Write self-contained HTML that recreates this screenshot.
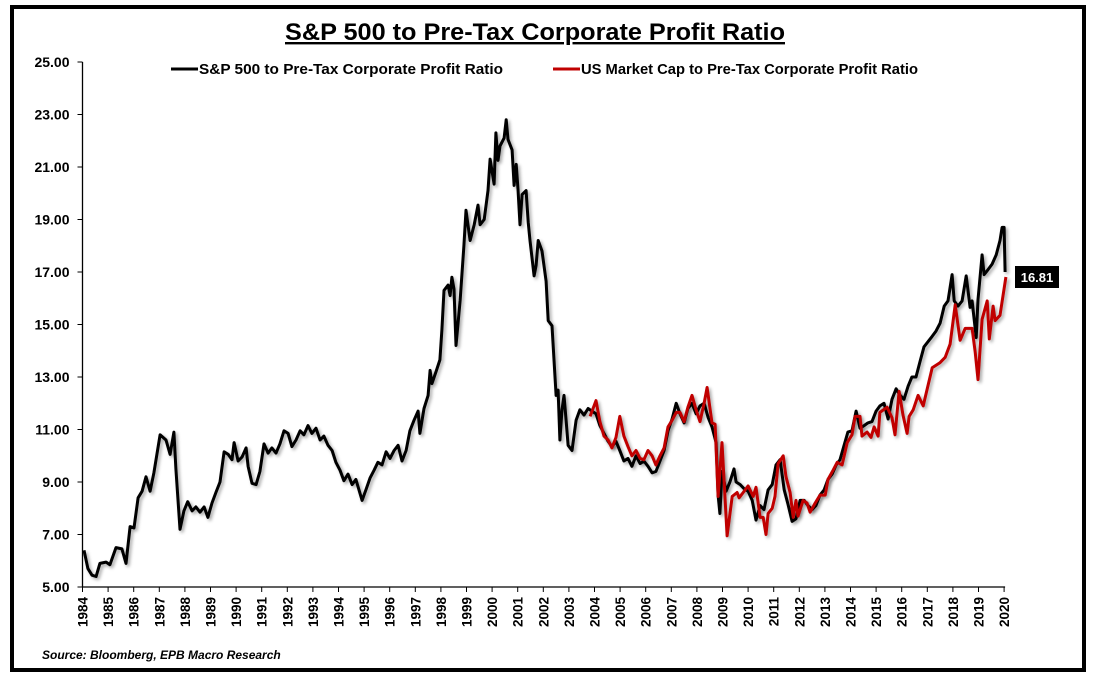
<!DOCTYPE html>
<html><head><meta charset="utf-8">
<style>
html,body{margin:0;padding:0;background:#fff;}
body{width:1097px;height:680px;position:relative;overflow:hidden;font-family:"Liberation Sans",Arial,sans-serif;}
svg text{font-family:"Liberation Sans",Arial,sans-serif;font-weight:bold;}
</style></head><body>
<svg id="chart" width="1097" height="680" viewBox="0 0 1097 680" xmlns="http://www.w3.org/2000/svg">
<defs><filter id="sh" x="-5%" y="-5%" width="110%" height="110%"><feDropShadow dx="2" dy="2" stdDeviation="1.5" flood-color="#000" flood-opacity="0.35"/></filter></defs>
<rect x="12" y="7" width="1072" height="663" fill="#fff" stroke="#000" stroke-width="4"/>
<text x="535" y="40" text-anchor="middle" font-size="24" textLength="500" lengthAdjust="spacingAndGlyphs" text-decoration="underline">S&amp;P 500 to Pre-Tax Corporate Profit Ratio</text>
<g>
<g><line x1="171" y1="69" x2="198" y2="69" stroke="#000" stroke-width="3"/><text x="199" y="74" font-size="14.5" textLength="304" lengthAdjust="spacingAndGlyphs">S&amp;P 500 to Pre-Tax Corporate Profit Ratio</text></g>
<g><line x1="553" y1="69" x2="580" y2="69" stroke="#c00000" stroke-width="3"/><text x="581" y="74" font-size="14.5" textLength="337" lengthAdjust="spacingAndGlyphs">US Market Cap to Pre-Tax Corporate Profit Ratio</text></g>
</g>
<g id="axes"></g>
<g id="series"></g>
<g><rect x="1015" y="266" width="44" height="22" fill="#000"/><text id="lastlbl" x="1037" y="282" text-anchor="middle" font-size="13" fill="#fff">16.81</text></g>
<text x="42" y="659" font-size="12" font-style="italic">Source: Bloomberg, EPB Macro Research</text>
</svg>
<script>
const yTicks=[5,7,9,11,13,15,17,19,21,23,25];
const xYears=[1984,1985,1986,1987,1988,1989,1990,1991,1992,1993,1994,1995,1996,1997,1998,1999,2000,2001,2002,2003,2004,2005,2006,2007,2008,2009,2010,2011,2012,2013,2014,2015,2016,2017,2018,2019,2020];
const spDates=[1984.06,1984.21,1984.37,1984.53,1984.68,1984.92,1985.07,1985.31,1985.54,1985.70,1985.86,1986.01,1986.17,1986.33,1986.48,1986.64,1986.79,1987.03,1987.26,1987.42,1987.57,1987.65,1987.81,1987.96,1988.11,1988.28,1988.43,1988.59,1988.75,1988.90,1989.06,1989.21,1989.37,1989.53,1989.69,1989.84,1989.92,1990.08,1990.23,1990.39,1990.47,1990.62,1990.78,1990.93,1991.09,1991.25,1991.40,1991.56,1991.71,1991.87,1992.03,1992.18,1992.34,1992.50,1992.65,1992.81,1992.96,1993.12,1993.28,1993.43,1993.59,1993.75,1993.90,1994.06,1994.21,1994.37,1994.53,1994.68,1994.92,1995.07,1995.23,1995.39,1995.54,1995.70,1995.86,1996.01,1996.17,1996.33,1996.48,1996.64,1996.79,1996.95,1997.11,1997.18,1997.34,1997.50,1997.58,1997.65,1997.81,1997.96,1998.04,1998.12,1998.28,1998.36,1998.43,1998.51,1998.59,1998.75,1998.90,1998.98,1999.14,1999.30,1999.45,1999.53,1999.69,1999.84,1999.92,2000.08,2000.15,2000.23,2000.31,2000.47,2000.55,2000.62,2000.78,2000.86,2000.94,2001.01,2001.09,2001.17,2001.33,2001.41,2001.48,2001.64,2001.72,2001.80,2001.95,2002.11,2002.19,2002.34,2002.50,2002.58,2002.65,2002.73,2002.81,2002.89,2002.97,2003.12,2003.28,2003.43,2003.59,2003.75,2003.90,2004.06,2004.21,2004.37,2004.53,2004.68,2004.84,2004.99,2005.15,2005.31,2005.46,2005.62,2005.78,2005.93,2006.09,2006.25,2006.40,2006.56,2006.72,2006.87,2007.03,2007.19,2007.34,2007.50,2007.65,2007.81,2007.97,2008.12,2008.28,2008.44,2008.59,2008.75,2008.83,2008.90,2008.98,2009.14,2009.29,2009.45,2009.53,2009.69,2009.84,2010.00,2010.16,2010.31,2010.47,2010.62,2010.78,2010.94,2011.09,2011.25,2011.41,2011.56,2011.72,2011.87,2012.03,2012.19,2012.34,2012.50,2012.65,2012.81,2012.97,2013.12,2013.28,2013.44,2013.59,2013.75,2013.90,2014.06,2014.22,2014.37,2014.53,2014.68,2014.84,2015.00,2015.15,2015.31,2015.47,2015.62,2015.78,2015.94,2016.09,2016.25,2016.40,2016.56,2016.72,2016.87,2017.03,2017.19,2017.34,2017.50,2017.66,2017.81,2017.97,2018.05,2018.20,2018.36,2018.52,2018.67,2018.75,2018.91,2018.98,2019.14,2019.22,2019.38,2019.53,2019.69,2019.84,2019.92,2020.00,2020.04];
const spValues=[6.4,5.7,5.45,5.4,5.9,5.95,5.85,6.5,6.45,5.9,7.3,7.25,8.4,8.65,9.2,8.65,9.35,10.8,10.6,10.05,10.9,9.5,7.2,7.9,8.25,7.9,8.05,7.85,8.05,7.65,8.2,8.6,9.0,10.15,10.05,9.85,10.5,9.8,9.95,10.3,9.6,8.95,8.9,9.4,10.45,10.1,10.3,10.1,10.45,10.95,10.85,10.35,10.6,10.95,10.8,11.15,10.85,11.05,10.6,10.75,10.4,10.2,9.75,9.45,9.05,9.3,8.9,9.1,8.3,8.7,9.15,9.45,9.75,9.65,10.15,9.9,10.2,10.4,9.8,10.2,10.95,11.35,11.7,10.85,11.8,12.3,13.25,12.75,13.2,13.65,14.8,16.3,16.5,16.1,16.8,16.35,14.2,15.9,18.0,19.35,18.2,18.8,19.55,18.8,19.0,20.1,21.3,20.35,22.3,21.25,21.8,22.1,22.8,22.05,21.65,20.3,21.1,20.15,18.8,19.95,20.1,18.9,18.2,16.85,17.25,18.2,17.8,16.65,15.15,14.95,12.3,12.5,10.6,11.75,12.3,11.35,10.4,10.2,11.35,11.75,11.55,11.8,11.7,11.6,11.15,10.85,10.55,10.35,10.55,10.2,9.8,9.9,9.6,10.0,9.7,9.8,9.6,9.35,9.4,9.8,10.2,10.95,11.4,12.0,11.6,11.25,11.8,12.0,11.6,11.9,12.0,11.45,11.1,10.5,8.5,7.8,9.4,8.65,9.0,9.5,9.0,8.9,8.75,8.65,8.3,7.55,8.1,7.95,8.7,8.9,9.65,9.85,8.7,8.15,7.5,7.6,8.3,8.3,8.1,7.95,8.1,8.5,8.7,9.1,9.3,9.65,9.85,10.4,10.9,10.95,11.7,11.05,11.15,11.25,11.3,11.7,11.9,12.0,11.4,12.15,12.55,12.3,12.15,12.65,13.0,13.0,13.6,14.15,14.35,14.55,14.75,15.05,15.7,15.9,16.9,15.9,15.7,15.9,16.85,15.65,15.9,14.5,15.95,17.65,16.9,17.1,17.3,17.65,18.2,18.7,18.7,17.0];
const mcDates=[2003.83,2004.06,2004.21,2004.37,2004.53,2004.68,2004.84,2004.99,2005.15,2005.31,2005.46,2005.62,2005.78,2005.93,2006.09,2006.25,2006.40,2006.56,2006.72,2006.87,2007.03,2007.19,2007.34,2007.50,2007.65,2007.81,2007.97,2008.12,2008.28,2008.40,2008.59,2008.71,2008.83,2008.98,2009.18,2009.38,2009.57,2009.65,2009.81,2010.00,2010.20,2010.31,2010.47,2010.59,2010.70,2010.78,2010.94,2011.05,2011.17,2011.37,2011.48,2011.64,2011.76,2011.87,2011.95,2012.15,2012.30,2012.42,2012.62,2012.81,2013.01,2013.12,2013.32,2013.48,2013.67,2013.87,2014.06,2014.18,2014.37,2014.45,2014.65,2014.80,2014.92,2015.08,2015.15,2015.43,2015.62,2015.74,2015.90,2016.05,2016.21,2016.29,2016.45,2016.64,2016.84,2017.19,2017.50,2017.70,2017.89,2018.09,2018.28,2018.48,2018.75,2018.87,2018.98,2019.14,2019.34,2019.42,2019.57,2019.65,2019.84,2020.07];
const mcValues=[11.5,12.1,11.3,10.75,10.6,10.3,10.7,11.5,10.75,10.35,10.0,10.2,9.9,9.85,10.2,10.0,9.65,10.0,10.3,11.1,11.35,11.65,11.65,11.3,11.85,12.3,11.75,11.3,12.0,12.6,11.25,11.2,8.45,10.5,6.95,8.45,8.6,8.4,8.6,8.85,8.45,8.8,7.65,7.65,7.0,7.8,8.0,8.45,9.7,10.0,9.2,8.6,7.65,8.3,7.7,8.3,8.2,7.85,8.2,8.5,8.5,9.1,9.45,9.75,9.65,10.5,10.8,11.5,11.5,10.75,10.9,10.7,11.1,10.75,11.65,11.85,11.45,10.8,12.45,11.55,10.85,11.5,11.75,12.3,11.9,13.35,13.55,13.75,14.25,15.75,14.4,14.85,14.85,13.95,12.9,15.2,15.9,14.45,15.7,15.15,15.35,16.81];

const X0=82.5,X1=1004.1,Y0=587,Y1=62;
const xs=t=>X0+(t-1984)/(2020-1984)*(X1-X0);
const ys=v=>Y0-(v-5)/(25-5)*(Y0-Y1);
const NS='http://www.w3.org/2000/svg';
const axes=document.getElementById('axes'),series=document.getElementById('series');
function mk(tag,attrs,parent){const e=document.createElementNS(NS,tag);for(const k in attrs)e.setAttribute(k,attrs[k]);parent.appendChild(e);return e;}
const yl=mk('line',{x1:X0,y1:Y1,x2:X0,y2:Y0,stroke:'#000','stroke-width':1.3},axes);


const xl=mk('line',{x1:X0,y1:Y0,x2:X1+1,y2:Y0,stroke:'#000','stroke-width':1.3},axes);


yTicks.forEach(v=>{
  const y=ys(v);
  mk('line',{x1:X0-5,y1:y,x2:X0,y2:y,stroke:'#000','stroke-width':1},axes);
  const t=mk('text',{x:X0-13,y:y+5,'text-anchor':'end','font-size':14},axes);
  t.textContent=v.toFixed(2);
  
  
});
xYears.forEach(yr=>{
  const x=xs(yr);
  mk('line',{x1:x,y1:Y0,x2:x,y2:Y0+5,stroke:'#000','stroke-width':1},axes);
  const t=mk('text',{x:0,y:0,'text-anchor':'end','font-size':13.5,transform:`translate(${x+5},597) rotate(-90)`},axes);
  t.textContent=yr;
  
  
});
function line(d,v,col,name){
  const p=mk('polyline',{points:d.map((t,i)=>xs(t).toFixed(1)+','+ys(v[i]).toFixed(1)).join(' '),fill:'none',stroke:col,'stroke-width':3,'stroke-linejoin':'round',filter:'url(#sh)'},series);
  
  
}
line(spDates,spValues,'#000','sp500-profit-ratio-line');
line(mcDates,mcValues,'#c00000','us-market-cap-profit-ratio-line');
const lv=mcValues[mcValues.length-1];
document.getElementById('lastlbl').textContent=lv.toFixed(2);
</script>
</body></html>
